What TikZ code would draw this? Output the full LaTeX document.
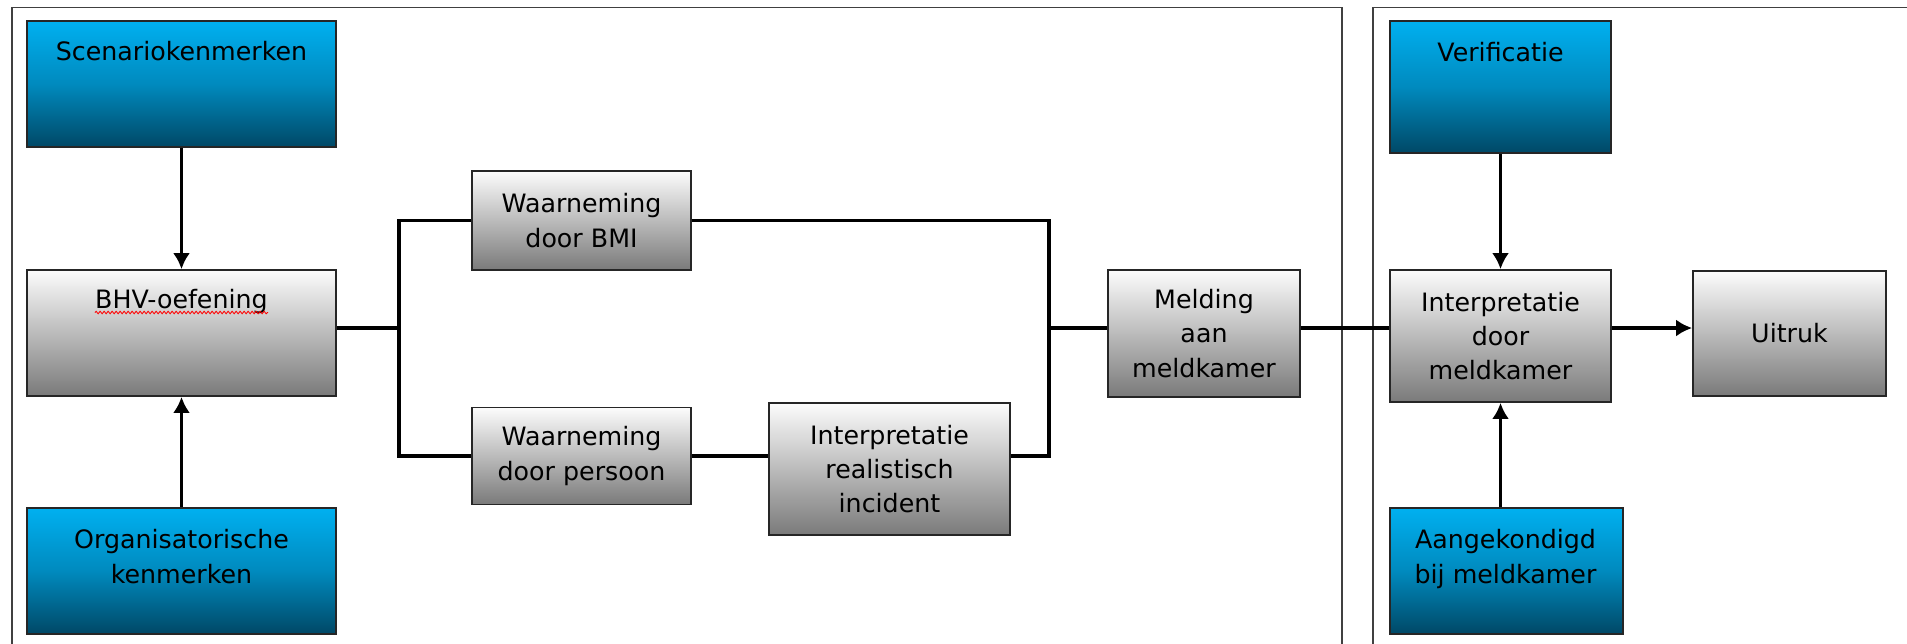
\documentclass[tikz,border=0pt]{standalone}
\usepackage{fontspec}
\setmainfont{DejaVu Sans}
\usepackage{tikz}
\usetikzlibrary{calc, shapes, arrows.meta}
\usetikzlibrary{positioning, decorations.pathmorphing}
\definecolor{bluetop}{RGB}{0,176,240}
\definecolor{bluemid}{RGB}{0,138,190}
\definecolor{bluebot}{RGB}{0,72,102}
\definecolor{greytop}{RGB}{252,252,252}
\definecolor{greybot}{RGB}{122,122,122}
\definecolor{framegrey}{RGB}{64,64,64}
\newcommand{\boxfont}{\fontsize{14.4pt}{19.6pt}\selectfont}
\tikzstyle{bluebox} = [rectangle, draw=black!85, line width=1pt, top color=bluetop, bottom color=bluebot, middle color=bluemid]
\tikzstyle{greybox} = [rectangle, draw=black!85, line width=1pt, top color=greytop, bottom color=greybot, align=center, font=\boxfont]
\tikzstyle{boxtext} = [align=center, inner sep=0pt, font=\boxfont, anchor=base]
\tikzstyle{connector} = [draw, -{Latex[length=0.32cm, width=0.34cm]}, line width=1.9pt]
\tikzstyle{link} = [draw, line width=1.9pt]
\tikzstyle{frame} = [draw=framegrey, line width=1.1pt]

\begin{document}
\begin{tikzpicture}
        \useasboundingbox (0, 0) rectangle (38.14, -12.86);
        \clip (0, 0) rectangle (38.14, -12.86);

        \draw[frame] (0.24, -13.5) |- (26.84, -0.15) -- (26.84, -13.5);
        \draw[frame] (27.46, -13.5) |- (38.6, -0.15);

        \node[bluebox, minimum width=6.18cm, minimum height=2.52cm] (scen) at (3.63, -1.68) {};
        \node[boxtext] (scentext) at (3.63, -1.2) {Scenariokenmerken};

        \node[greybox, minimum width=6.18cm, minimum height=2.52cm] (bhv) at (3.63, -6.66) {};
        \node[boxtext] (bhvtext) at (3.63, -6.16) {BHV-oefening};
        \draw[red, line width=0.5pt, decorate, decoration={snake, segment length=0.08cm, amplitude=0.025cm}] ([yshift=-0.09cm]bhvtext.base west) -- ([yshift=-0.09cm]bhvtext.base east);

        \node[bluebox, minimum width=6.18cm, minimum height=2.52cm] (org) at (3.63, -11.42) {};
        \node[boxtext] (orgtext) at (3.63, -11.66) {Organisatorische\\kenmerken};

        \node[greybox, minimum width=4.38cm, minimum height=1.98cm] (bmi) at (11.63, -4.41) {Waarneming\\door BMI};
        \node[greybox, minimum width=4.38cm, minimum height=1.94cm] (persoon) at (11.63, -9.12) {Waarneming\\door persoon};
        \node[greybox, minimum width=4.82cm, minimum height=2.64cm] (interpreal) at (17.79, -9.38) {Interpretatie\\realistisch\\incident};
        \node[greybox, minimum width=3.84cm, minimum height=2.54cm] (melding) at (24.08, -6.67) {Melding\\aan\\meldkamer};

        \node[bluebox, minimum width=4.42cm, minimum height=2.64cm] (verif) at (30.01, -1.74) {};
        \node[boxtext] (veriftext) at (30.01, -1.23) {Verificatie};

        \node[greybox, minimum width=4.42cm, minimum height=2.64cm] (interpmk) at (30.01, -6.72) {Interpretatie\\door\\meldkamer};
        \node[greybox, minimum width=3.86cm, minimum height=2.5cm] (uitruk) at (35.79, -6.67) {Uitruk};

        \node[bluebox, minimum width=4.66cm, minimum height=2.52cm] (aang) at (30.13, -11.42) {};
        \node[boxtext] (aangtext) at (30.11, -11.66) {Aangekondigd\\bij meldkamer};

        \coordinate (splitL) at (7.98, -6.56);
        \coordinate (splitR) at (20.98, -6.56);

        \draw[connector] (scen) -- (bhv);
        \draw[connector] (org) -- (bhv);
        \draw[connector] (verif) -- (interpmk);
        \draw[connector] (aang.north -| interpmk.south) -- (interpmk.south);

        \draw[link] (bhv.east |- splitL) -- (splitL);
        \draw[link] (bmi.west) -| (splitL) |- (persoon.west);
        \draw[link] (bmi.east) -| (splitR);
        \draw[link] (persoon.east) -- (persoon.east -| interpreal.west);
        \draw[link] (persoon.east -| interpreal.east) -| (splitR);
        \draw[link] (splitR) -- (splitR -| melding.west);
        \draw[link] (splitR -| melding.east) -- (splitR -| interpmk.west);
        \draw[connector] (splitR -| interpmk.east) -- (splitR -| uitruk.west);

    \end{tikzpicture}
\end{document}
